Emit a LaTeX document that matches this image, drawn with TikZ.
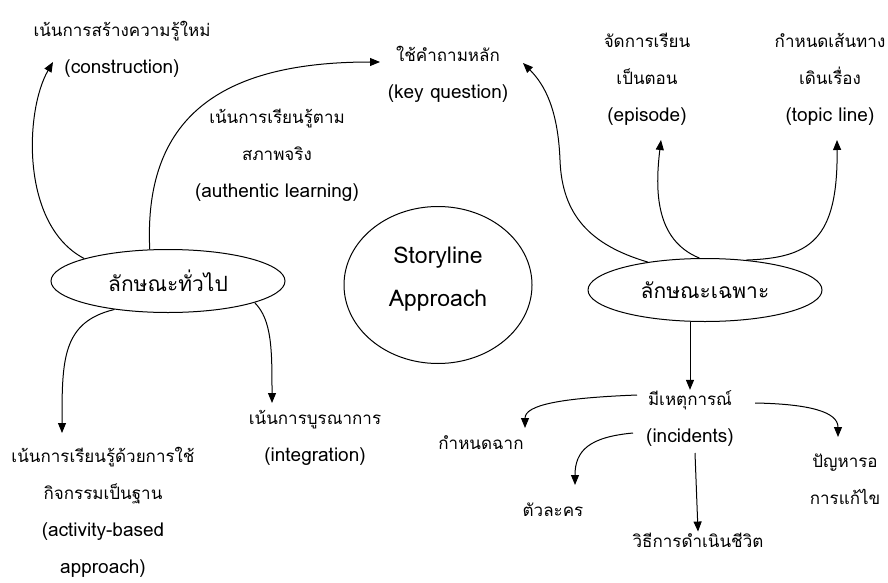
\documentclass[tikz,border=0pt]{standalone}
\usepackage{fontspec}
\newfontfamily\thaifont[Script=Thai]{Loma}
\newcommand\enl{\fontsize{19}{37}\selectfont}
\usetikzlibrary{shapes.geometric,arrows.meta}
\begin{document}
\begin{tikzpicture}[
    x=1pt, y=-1pt,
    lab/.style={draw=none, inner sep=1pt, align=center, font=\thaifont\fontsize{17}{37}\selectfont},
    oval/.style={ellipse, draw, line width=1pt, inner sep=0pt, minimum width=234, minimum height=63,
                 font=\thaifont\fontsize{21}{25}\selectfont},
    arr/.style={draw, line width=1pt, -{Triangle[length=10pt,width=8pt]}}
]
\useasboundingbox (0,0) rectangle (888,583);
\node[oval] (gen) at (168,281) {ลักษณะทั่วไป};
\node[oval] (spec) at (705,290) {ลักษณะเฉพาะ};
\node[oval, minimum width=188, minimum height=157, font=\thaifont\fontsize{23}{43}\selectfont, align=center,
      text depth=17pt] (story) at (438,285) {Storyline\\Approach};
\node[lab] (construct) at (122,49) {เน้นการสร้างความรู้ใหม่\\\enl(construction)};
\node[lab] (keyq) at (448,74) {ใช้คำถามหลัก\\\enl(key question)};
\node[lab] (authentic) at (277,155) {เน้นการเรียนรู้ตาม\\สภาพจริง\\\enl(authentic learning)};
\node[lab] (episode) at (647,79) {จัดการเรียน\\เป็นตอน\\\enl(episode)};
\node[lab] (topic) at (830,79) {กำหนดเส้นทาง\\เดินเรื่อง\\\enl(topic line)};
\node[lab] (integ) at (315,438) {เน้นการบูรณาการ\\\enl(integration)};
\node[lab] (activity) at (103,512) {เน้นการเรียนรู้ด้วยการใช้\\กิจกรรมเป็นฐาน\\\enl(activity-based\\\enl approach)};
\node[lab] (incident) at (690,419) {มีเหตุการณ์\\\enl(incidents)};
\node[lab] (scene) at (481,443) {กำหนดฉาก};
\node[lab] (chars) at (553,510) {ตัวละคร};
\node[lab] (lifeway) at (698,540) {วิธีการดำเนินชีวิต};
\node[lab] (problem) at (845,479) {ปัญหารอ\\การแก้ไข};

\draw[arr] (gen.165) .. controls (20,225) and (25,110) .. ([shift={(-69,13)}]construct.center);
\draw[arr] (gen.120) .. controls (143,110) and (230,62) .. ([shift={(-68,-12)}]keyq.center);
\draw[arr] (gen.208) .. controls (62,322) and (62,360) .. ([shift={(-41,-79)}]activity.center);
\draw[arr] (gen.346) .. controls (272,320) and (272,350) .. ([shift={(-43,-35)}]integ.center);

\draw[arr] (spec.154) .. controls (590,245) and (562,215) .. (560,160)
    .. controls (558,110) and (545,85) .. ([shift={(75,-11)}]keyq.center);
\draw[arr] (spec.100) .. controls (655,240) and (655,190) .. ([shift={(14,61)}]episode.center);
\draw[arr] (spec.36) .. controls (810,258) and (838,240) .. ([shift={(7,61)}]topic.center);
\draw[arr] (spec.south -| incident) -- (incident.north);

\draw[arr] ([shift={(-53,-24)}]incident.center) .. controls (560,398) and (525,405) .. ([shift={(44,-15)}]scene.center);
\draw[arr] ([shift={(-57,14)}]incident.center) .. controls (590,437) and (575,450) .. ([shift={(22,-25)}]chars.center);
\draw[arr] ([shift={(5,34)}]incident.center) -- (lifeway.north);
\draw[arr] ([shift={(65,-16)}]incident.center) .. controls (810,404) and (838,412) .. ([shift={(-7,-42)}]problem.center);
\end{tikzpicture}
\end{document}
